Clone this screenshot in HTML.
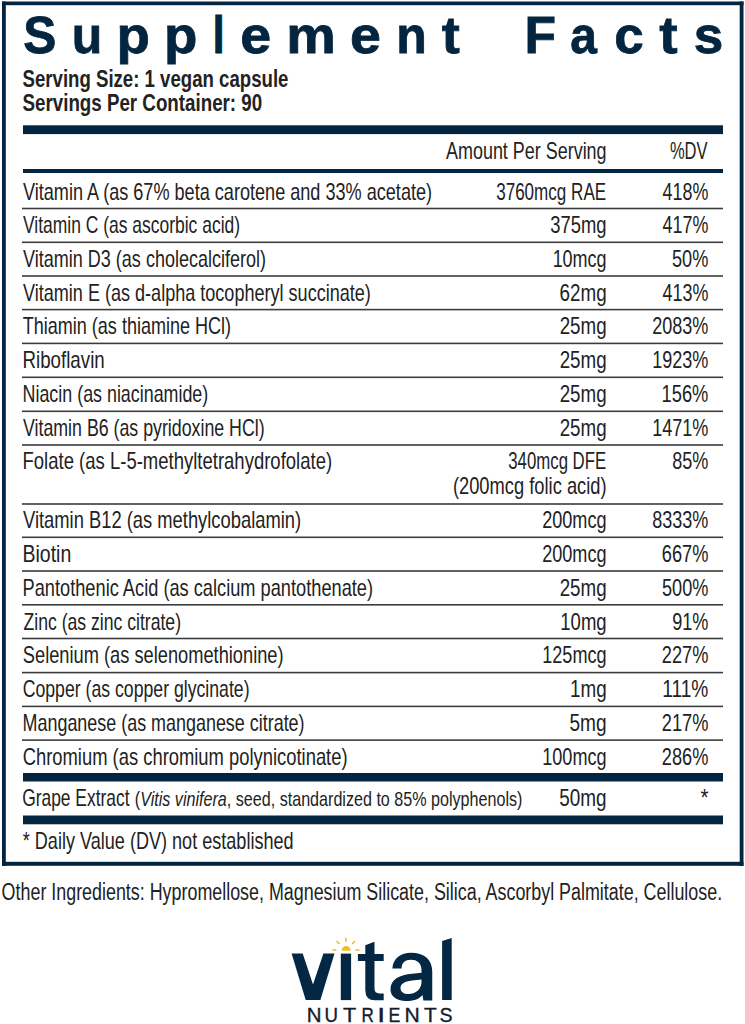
<!DOCTYPE html>
<html><head><meta charset="utf-8"><title>Supplement Facts</title>
<style>
html,body{margin:0;padding:0;background:#fff;}
body{width:745px;height:1024px;overflow:hidden;}
svg{display:block;}
text{font-family:"Liberation Sans",sans-serif;}
</style></head><body>
<svg width="745" height="1024" viewBox="0 0 745 1024">
<rect x="0" y="0" width="745" height="1024" fill="#fff"/>
<rect x="2" y="1.5" width="741.5" height="3.7" fill="#04253f"/>
<rect x="2" y="1.5" width="3.8" height="864.5" fill="#04253f"/>
<rect x="739.7" y="1.5" width="3.8" height="864.5" fill="#04253f"/>
<rect x="2" y="861.8" width="741.5" height="4.0" fill="#04253f"/>
<rect x="23" y="125.3" width="700" height="8.8" fill="#04253f"/>
<rect x="23" y="169" width="700" height="4" fill="#04253f"/>
<rect x="23" y="773" width="700" height="8.5" fill="#04253f"/>
<rect x="23" y="815.5" width="700" height="8.8" fill="#04253f"/>
<rect x="22" y="207.7" width="701" height="1.6" fill="#3c3c3c"/>
<rect x="22" y="241.5" width="701" height="1.6" fill="#3c3c3c"/>
<rect x="22" y="275.2" width="701" height="1.6" fill="#3c3c3c"/>
<rect x="22" y="308.8" width="701" height="1.6" fill="#3c3c3c"/>
<rect x="22" y="342.59999999999997" width="701" height="1.6" fill="#3c3c3c"/>
<rect x="22" y="376.5" width="701" height="1.6" fill="#3c3c3c"/>
<rect x="22" y="410.5" width="701" height="1.6" fill="#3c3c3c"/>
<rect x="22" y="444.2" width="701" height="1.6" fill="#3c3c3c"/>
<rect x="22" y="503.2" width="701" height="1.6" fill="#3c3c3c"/>
<rect x="22" y="536.5" width="701" height="1.6" fill="#3c3c3c"/>
<rect x="22" y="570.2" width="701" height="1.6" fill="#3c3c3c"/>
<rect x="22" y="604.0" width="701" height="1.6" fill="#3c3c3c"/>
<rect x="22" y="637.7" width="701" height="1.6" fill="#3c3c3c"/>
<rect x="22" y="671.8000000000001" width="701" height="1.6" fill="#3c3c3c"/>
<rect x="22" y="705.6" width="701" height="1.6" fill="#3c3c3c"/>
<rect x="22" y="739.3000000000001" width="701" height="1.6" fill="#3c3c3c"/>
<g fill="#04253f" stroke="#04253f" stroke-width="0.8">
<text x="23.23" y="52.6" font-size="52.0" font-weight="bold" textLength="33.08" lengthAdjust="spacingAndGlyphs">S</text>
<text x="71.66" y="52.6" font-size="52.0" font-weight="bold" textLength="30.54" lengthAdjust="spacingAndGlyphs">u</text>
<text x="116.58" y="52.6" font-size="52.0" font-weight="bold" textLength="33.41" lengthAdjust="spacingAndGlyphs">p</text>
<text x="163.98" y="52.6" font-size="52.0" font-weight="bold" textLength="33.41" lengthAdjust="spacingAndGlyphs">p</text>
<text x="212.54" y="52.6" font-size="52.0" font-weight="bold" textLength="12.27" lengthAdjust="spacingAndGlyphs">l</text>
<text x="240.36" y="52.6" font-size="52.0" font-weight="bold" textLength="30.92" lengthAdjust="spacingAndGlyphs">e</text>
<text x="286.31" y="52.6" font-size="52.0" font-weight="bold" textLength="49.59" lengthAdjust="spacingAndGlyphs">m</text>
<text x="349.96" y="52.6" font-size="52.0" font-weight="bold" textLength="30.92" lengthAdjust="spacingAndGlyphs">e</text>
<text x="396.27" y="52.6" font-size="52.0" font-weight="bold" textLength="30.54" lengthAdjust="spacingAndGlyphs">n</text>
<text x="441.80" y="52.6" font-size="52.0" font-weight="bold" textLength="18.06" lengthAdjust="spacingAndGlyphs">t</text>
<text x="524.38" y="52.6" font-size="52.0" font-weight="bold" textLength="31.51" lengthAdjust="spacingAndGlyphs">F</text>
<text x="570.25" y="52.6" font-size="52.0" font-weight="bold" textLength="26.64" lengthAdjust="spacingAndGlyphs">a</text>
<text x="614.24" y="52.6" font-size="52.0" font-weight="bold" textLength="29.48" lengthAdjust="spacingAndGlyphs">c</text>
<text x="659.30" y="52.6" font-size="52.0" font-weight="bold" textLength="18.37" lengthAdjust="spacingAndGlyphs">t</text>
<text x="693.84" y="52.6" font-size="52.0" font-weight="bold" textLength="29.51" lengthAdjust="spacingAndGlyphs">s</text>
</g>
<g fill="#222222">
<text x="22.54" y="86.60" font-size="24.1" textLength="265.88" lengthAdjust="spacingAndGlyphs" font-weight="bold">Serving Size: 1 vegan capsule</text>
<text x="22.53" y="111.20" font-size="24.1" textLength="239.67" lengthAdjust="spacingAndGlyphs" font-weight="bold">Servings Per Container: 90</text>
<text x="446.00" y="158.60" font-size="23.8" textLength="160.58" lengthAdjust="spacingAndGlyphs">Amount Per Serving</text>
<text x="669.95" y="158.60" font-size="23.8" textLength="37.61" lengthAdjust="spacingAndGlyphs">%DV</text>
<text x="23.02" y="199.50" font-size="23.8" textLength="409.05" lengthAdjust="spacingAndGlyphs">Vitamin A (as 67% beta carotene and 33% acetate)</text>
<text x="496.15" y="199.50" font-size="23.8" textLength="110.04" lengthAdjust="spacingAndGlyphs">3760mcg RAE</text>
<text x="662.62" y="199.50" font-size="23.8" textLength="45.75" lengthAdjust="spacingAndGlyphs">418%</text>
<text x="23.03" y="233.20" font-size="23.8" textLength="217.02" lengthAdjust="spacingAndGlyphs">Vitamin C (as ascorbic acid)</text>
<text x="550.30" y="233.20" font-size="23.8" textLength="56.31" lengthAdjust="spacingAndGlyphs">375mg</text>
<text x="662.62" y="233.20" font-size="23.8" textLength="45.75" lengthAdjust="spacingAndGlyphs">417%</text>
<text x="23.02" y="267.00" font-size="23.8" textLength="243.06" lengthAdjust="spacingAndGlyphs">Vitamin D3 (as cholecalciferol)</text>
<text x="552.64" y="267.00" font-size="23.8" textLength="53.94" lengthAdjust="spacingAndGlyphs">10mcg</text>
<text x="672.01" y="267.00" font-size="23.8" textLength="36.37" lengthAdjust="spacingAndGlyphs">50%</text>
<text x="23.02" y="300.60" font-size="23.8" textLength="347.86" lengthAdjust="spacingAndGlyphs">Vitamin E (as d-alpha tocopheryl succinate)</text>
<text x="559.55" y="300.60" font-size="23.8" textLength="47.09" lengthAdjust="spacingAndGlyphs">62mg</text>
<text x="662.62" y="300.60" font-size="23.8" textLength="45.75" lengthAdjust="spacingAndGlyphs">413%</text>
<text x="22.72" y="334.40" font-size="23.8" textLength="208.36" lengthAdjust="spacingAndGlyphs">Thiamin (as thiamine HCl)</text>
<text x="559.63" y="334.40" font-size="23.8" textLength="47.00" lengthAdjust="spacingAndGlyphs">25mg</text>
<text x="652.17" y="334.40" font-size="23.8" textLength="56.21" lengthAdjust="spacingAndGlyphs">2083%</text>
<text x="22.51" y="368.30" font-size="23.8" textLength="82.20" lengthAdjust="spacingAndGlyphs">Riboflavin</text>
<text x="559.63" y="368.30" font-size="23.8" textLength="47.00" lengthAdjust="spacingAndGlyphs">25mg</text>
<text x="652.13" y="368.30" font-size="23.8" textLength="56.24" lengthAdjust="spacingAndGlyphs">1923%</text>
<text x="22.57" y="402.30" font-size="23.8" textLength="185.70" lengthAdjust="spacingAndGlyphs">Niacin (as niacinamide)</text>
<text x="559.63" y="402.30" font-size="23.8" textLength="47.00" lengthAdjust="spacingAndGlyphs">25mg</text>
<text x="661.62" y="402.30" font-size="23.8" textLength="46.77" lengthAdjust="spacingAndGlyphs">156%</text>
<text x="23.03" y="436.00" font-size="23.8" textLength="241.64" lengthAdjust="spacingAndGlyphs">Vitamin B6 (as pyridoxine HCl)</text>
<text x="559.63" y="436.00" font-size="23.8" textLength="47.00" lengthAdjust="spacingAndGlyphs">25mg</text>
<text x="652.13" y="436.00" font-size="23.8" textLength="56.24" lengthAdjust="spacingAndGlyphs">1471%</text>
<text x="22.52" y="469.00" font-size="23.8" textLength="309.59" lengthAdjust="spacingAndGlyphs">Folate (as L-5-methyltetrahydrofolate)</text>
<text x="508.27" y="469.00" font-size="23.8" textLength="97.92" lengthAdjust="spacingAndGlyphs">340mcg DFE</text>
<text x="672.24" y="469.00" font-size="23.8" textLength="36.14" lengthAdjust="spacingAndGlyphs">85%</text>
<text x="23.02" y="528.30" font-size="23.8" textLength="278.08" lengthAdjust="spacingAndGlyphs">Vitamin B12 (as methylcobalamin)</text>
<text x="542.16" y="528.30" font-size="23.8" textLength="64.43" lengthAdjust="spacingAndGlyphs">200mcg</text>
<text x="652.24" y="528.30" font-size="23.8" textLength="56.13" lengthAdjust="spacingAndGlyphs">8333%</text>
<text x="22.44" y="562.00" font-size="23.8" textLength="48.82" lengthAdjust="spacingAndGlyphs">Biotin</text>
<text x="542.16" y="562.00" font-size="23.8" textLength="64.43" lengthAdjust="spacingAndGlyphs">200mcg</text>
<text x="661.78" y="562.00" font-size="23.8" textLength="46.60" lengthAdjust="spacingAndGlyphs">667%</text>
<text x="22.55" y="595.80" font-size="23.8" textLength="350.54" lengthAdjust="spacingAndGlyphs">Pantothenic Acid (as calcium pantothenate)</text>
<text x="559.63" y="595.80" font-size="23.8" textLength="47.00" lengthAdjust="spacingAndGlyphs">25mg</text>
<text x="662.01" y="595.80" font-size="23.8" textLength="46.37" lengthAdjust="spacingAndGlyphs">500%</text>
<text x="23.48" y="629.60" font-size="23.8" textLength="157.57" lengthAdjust="spacingAndGlyphs">Zinc (as zinc citrate)</text>
<text x="560.30" y="629.60" font-size="23.8" textLength="46.32" lengthAdjust="spacingAndGlyphs">10mg</text>
<text x="672.16" y="629.60" font-size="23.8" textLength="36.22" lengthAdjust="spacingAndGlyphs">91%</text>
<text x="22.83" y="663.40" font-size="23.8" textLength="260.76" lengthAdjust="spacingAndGlyphs">Selenium (as selenomethionine)</text>
<text x="542.23" y="663.40" font-size="23.8" textLength="64.36" lengthAdjust="spacingAndGlyphs">125mcg</text>
<text x="661.86" y="663.40" font-size="23.8" textLength="46.52" lengthAdjust="spacingAndGlyphs">227%</text>
<text x="22.71" y="697.40" font-size="23.8" textLength="226.85" lengthAdjust="spacingAndGlyphs">Copper (as copper glycinate)</text>
<text x="569.97" y="697.40" font-size="23.8" textLength="36.66" lengthAdjust="spacingAndGlyphs">1mg</text>
<text x="662.25" y="697.40" font-size="23.8" textLength="46.16" lengthAdjust="spacingAndGlyphs">111%</text>
<text x="22.57" y="731.10" font-size="23.8" textLength="282.00" lengthAdjust="spacingAndGlyphs">Manganese (as manganese citrate)</text>
<text x="569.48" y="731.10" font-size="23.8" textLength="37.18" lengthAdjust="spacingAndGlyphs">5mg</text>
<text x="661.86" y="731.10" font-size="23.8" textLength="46.52" lengthAdjust="spacingAndGlyphs">217%</text>
<text x="22.67" y="764.50" font-size="23.8" textLength="324.93" lengthAdjust="spacingAndGlyphs">Chromium (as chromium polynicotinate)</text>
<text x="542.23" y="764.50" font-size="23.8" textLength="64.36" lengthAdjust="spacingAndGlyphs">100mcg</text>
<text x="661.86" y="764.50" font-size="23.8" textLength="46.52" lengthAdjust="spacingAndGlyphs">286%</text>
<text x="452.92" y="493.60" font-size="23.8" textLength="153.67" lengthAdjust="spacingAndGlyphs">(200mcg folic acid)</text>
<text x="22.20" y="806.40" font-size="23.8" textLength="107.29" lengthAdjust="spacingAndGlyphs">Grape Extract</text>
<text x="134.85" y="806.40" font-size="20.3" textLength="387.57" lengthAdjust="spacingAndGlyphs">(<tspan font-style="italic">Vitis vinifera</tspan>, seed, standardized to 85% polyphenols)</text>
<text x="559.28" y="806.40" font-size="23.8" textLength="47.36" lengthAdjust="spacingAndGlyphs">50mg</text>
<text x="700.44" y="806.40" font-size="23.8" textLength="8.08" lengthAdjust="spacingAndGlyphs">*</text>
<text x="22.77" y="849.20" font-size="23.8" textLength="270.82" lengthAdjust="spacingAndGlyphs">* Daily Value (DV) not established</text>
<text x="1.62" y="899.50" font-size="23" textLength="720.50" lengthAdjust="spacingAndGlyphs">Other Ingredients: Hypromellose, Magnesium Silicate, Silica, Ascorbyl Palmitate, Cellulose.</text>
</g>
<g fill="#042844">
<path d="M291.6,953.6 L302.7,953.6 L313,984.6 L323.4,953.6 L334.5,953.6 L320.4,1000.1 L305.7,1000.1 Z"/>
<rect x="340.8" y="953.6" width="10.3" height="46.5"/>
<path d="M365.3,945.3 L374.5,941.8 L374.5,954.1 L383.7,954.1 L383.7,961 L374.5,961 L374.5,988.5 Q374.5,993.4 379.5,993.4 L383.7,993.4 L383.7,1000.3 L375,1000.3 Q365.3,1000.3 365.3,990 L365.3,961 L357.9,961 L357.9,954.1 L365.3,954.1 Z"/>
<path fill-rule="evenodd" d="M392.4,968.6 C393,958 401,952.75 411,952.75 C424,952.75 432.25,959 432.25,972 L432.25,1000.4 L423.4,1000.4 L422.5,995 C419,999.5 413,1001 406,1001 C396,1001 390.5,996 390.5,989.3 C390.5,979 400,975 412,973.8 L421.5,972.8 L421.5,970 C421.5,963 417,959.8 411,959.8 C405,959.8 401.6,963 401.6,968.6 Z M421.5,979.5 L412,980.5 C404,981.5 400.5,984 400.5,988 C400.5,992 404,994.1 408,994.1 C416,994.1 421.5,989 421.5,982 Z"/>
<path d="M442.1,941 L451.7,938 L451.7,1000.1 L442.1,1000.1 Z"/>
</g>
<g fill="#f2bf1c" stroke="none">
<path d="M341.6,950.7 A4.6,4.6 0 0 1 350.8,950.7 Z"/>
</g>
<g stroke="#f2bf1c" stroke-width="1.6" stroke-linecap="butt">
<line x1="345.8" y1="937.8" x2="345.8" y2="941.8"/>
<line x1="336.7" y1="941" x2="339.4" y2="944"/>
<line x1="354.9" y1="941" x2="352.2" y2="944"/>
<line x1="332.5" y1="950" x2="336.2" y2="950"/>
<line x1="355.6" y1="950" x2="359.5" y2="950"/>
</g>

<g fill="#141c2b" stroke="#141c2b" stroke-width="0.35">
<text x="306.76" y="1021.9" font-size="19.9" textLength="14.76" lengthAdjust="spacingAndGlyphs">N</text>
<text x="324.39" y="1021.9" font-size="19.9" textLength="13.49" lengthAdjust="spacingAndGlyphs">U</text>
<text x="343.06" y="1021.9" font-size="19.9" textLength="13.23" lengthAdjust="spacingAndGlyphs">T</text>
<text x="361.43" y="1021.9" font-size="19.9" textLength="12.32" lengthAdjust="spacingAndGlyphs">R</text>
<text x="377.24" y="1021.9" font-size="19.9" textLength="7.86" lengthAdjust="spacingAndGlyphs">I</text>
<text x="388.58" y="1021.9" font-size="19.9" textLength="11.81" lengthAdjust="spacingAndGlyphs">E</text>
<text x="404.40" y="1021.9" font-size="19.9" textLength="15.27" lengthAdjust="spacingAndGlyphs">N</text>
<text x="423.98" y="1021.9" font-size="19.9" textLength="12.69" lengthAdjust="spacingAndGlyphs">T</text>
<text x="439.62" y="1021.9" font-size="19.9" textLength="13.04" lengthAdjust="spacingAndGlyphs">S</text>
</g>
</svg>
</body></html>
